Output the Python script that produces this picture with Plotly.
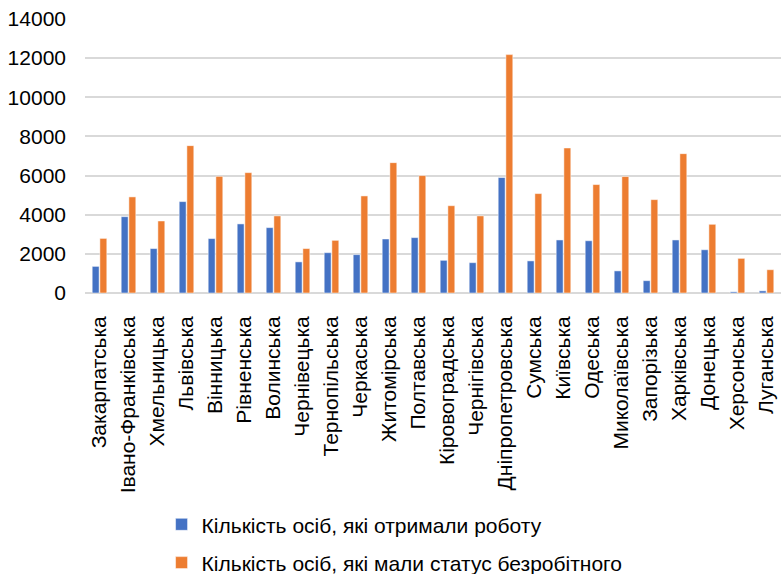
import plotly.graph_objects as go

regions = ["Закарпатська", "Івано-Франківська", "Хмельницька", "Львівська", "Вінницька",
           "Рівненська", "Волинська", "Чернівецька", "Тернопільська", "Черкаська",
           "Житомірська", "Полтавська", "Кіровоградська", "Чернігівська", "Дніпропетровська",
           "Сумська", "Київська", "Одеська", "Миколаївська", "Запорізька", "Харківська",
           "Донецька", "Херсонська", "Луганська"]

employed = [1360, 3900, 2270, 4670, 2780, 3530, 3340, 1590, 2060, 1960, 2760, 2830,
            1670, 1550, 5900, 1640, 2710, 2670, 1130, 630, 2710, 2210, 60, 110]

unemployed = [2790, 4910, 3680, 7530, 5960, 6150, 3940, 2270, 2690, 4960, 6660, 6000,
              4460, 3940, 12180, 5080, 7410, 5540, 5950, 4770, 7120, 3510, 1770, 1190]

name1 = "Кількість осіб, які отримали роботу"
name2 = "Кількість осіб, які мали статус безробітного"
yticks = [0, 2000, 4000, 6000, 8000, 10000, 12000, 14000]

fig = go.Figure()
fig.add_trace(go.Bar(x=regions, y=employed, name=name1, legendgroup="a",
                     marker=dict(color="#4472C4", line=dict(color="#ffffff", width=0.5))))
fig.add_trace(go.Bar(x=regions, y=unemployed, name=name2, legendgroup="b",
                     marker=dict(color="#ED7D31", line=dict(color="#ffffff", width=0.5))))

font = "Liberation Sans, Arial, sans-serif"
fig.update_layout(
    width=781, height=574,
    margin=dict(l=85, r=0, t=19, b=281, autoexpand=False),
    plot_bgcolor="white", paper_bgcolor="white",
    barmode="group", bargap=0.47, bargroupgap=0.1,
    font=dict(family=font, size=20, color="#000000"),
    showlegend=True,
    legend=dict(orientation="v", x=0.11, xanchor="left", y=-1.059, yanchor="bottom",
                font=dict(size=21, family=font), tracegroupgap=8, traceorder="grouped",
                bgcolor="rgba(0,0,0,0)"),
    xaxis=dict(tickangle=-90, showgrid=False, showline=False, ticks="", automargin=False,
               tickfont=dict(size=21), ticklabelstandoff=18),
    yaxis=dict(range=[0, 14000], tickvals=yticks, ticktext=[str(v) for v in yticks],
               showgrid=True, gridcolor="#d9d9d9", gridwidth=1.5, automargin=False,
               zeroline=True, zerolinecolor="#d9d9d9", zerolinewidth=1.5,
               showline=False, ticks="", tickfont=dict(size=21), ticklabelstandoff=18),
)

fig.write_html("out.html", config={"displayModeBar": False},
               post_script="document.body.style.margin='0';document.body.style.overflow='hidden';")
